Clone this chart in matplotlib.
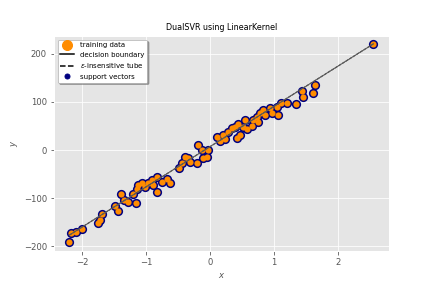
import numpy as np
import matplotlib
matplotlib.use("Agg")
import matplotlib.pyplot as plt
from matplotlib.lines import Line2D

plt.style.use("ggplot")

x_data = [-2.20, -2.17, -2.09, -2.00, -1.75, -1.72, -1.69, -1.48, -1.44, -1.39,
          -1.34, -1.28, -1.20, -1.16, -1.14, -1.13, -1.06, -1.02, -0.97, -0.91,
          -0.89, -0.83, -0.83, -0.75, -0.67, -0.62, -0.48, -0.44, -0.39, -0.34,
          -0.31, -0.20, -0.19, -0.12, -0.11, -0.05, -0.03, 0.11, 0.16, 0.20,
          0.23, 0.28, 0.34, 0.39, 0.42, 0.44, 0.47, 0.52, 0.55, 0.58,
          0.66, 0.67, 0.73, 0.75, 0.78, 0.83, 0.86, 0.94, 0.97, 1.05,
          1.06, 1.11, 1.20, 1.34, 1.44, 1.45, 1.61, 1.64, 2.56]
y_data = [-192, -173, -171, -165, -152, -146, -133, -117, -127, -92,
          -104, -108, -92, -110, -81, -73, -69, -77, -69, -62,
          -73, -56, -88, -67, -60, -69, -37, -27, -15, -17,
          -25, -27, 10, 0, -17, -15, 0, 27, 19, 31,
          23, 37, 46, 48, 25, 54, 31, 48, 62, 44,
          50, 62, 69, 58, 77, 83, 73, 88, 77, 90,
          73, 98, 98, 96, 123, 110, 119, 135, 221]

coef = 83.5
intercept = 7.0
epsilon = 0.5

x_arr = np.array(x_data)
y_arr = np.array(y_data)
line_x = np.linspace(x_arr.min(), x_arr.max(), 100)
line_y = coef * line_x + intercept

fig = plt.figure(figsize=(6, 4), dpi=72)
ax = fig.add_axes([0.125, 0.128, 0.775, 0.747])

ax.scatter(x_arr, y_arr, c="navy", s=85, zorder=2, linewidths=0)
ax.scatter(x_arr, y_arr, c="darkorange", s=38, zorder=3, linewidths=0)
ax.plot(line_x, line_y, color="0.35", lw=1, zorder=4)
ax.plot(line_x, line_y + epsilon, color="0.35", lw=0.8, ls="--", zorder=4)
ax.plot(line_x, line_y - epsilon, color="0.35", lw=0.8, ls="--", zorder=4)

ax.set_xlim(-2.44, 2.80)
ax.set_ylim(-210, 237)
ax.set_xticks([-2, -1, 0, 1, 2])
ax.set_yticks([-200, -100, 0, 100, 200])
ax.tick_params(labelsize=8.5)
ax.set_xlabel("$x$", fontsize=8.5)
ax.set_ylabel("$y$", fontsize=8.5)
ax.set_title("DualSVR using LinearKernel", fontsize=8)

handles = [
    Line2D([], [], marker="o", color="darkorange", ls="", markersize=10),
    Line2D([], [], color="k", lw=1.5),
    Line2D([], [], color="k", lw=1.5, ls="--"),
    Line2D([], [], marker="o", color="navy", ls="", markersize=5),
]
labels = ["training data", "decision boundary", r"$\varepsilon$-insensitive tube", "support vectors"]
leg = ax.legend(handles, labels, loc="upper left", fontsize=7, shadow=True,
                frameon=True, facecolor="white", edgecolor="0.6", framealpha=1)

fig.savefig("out.png", dpi=72)
